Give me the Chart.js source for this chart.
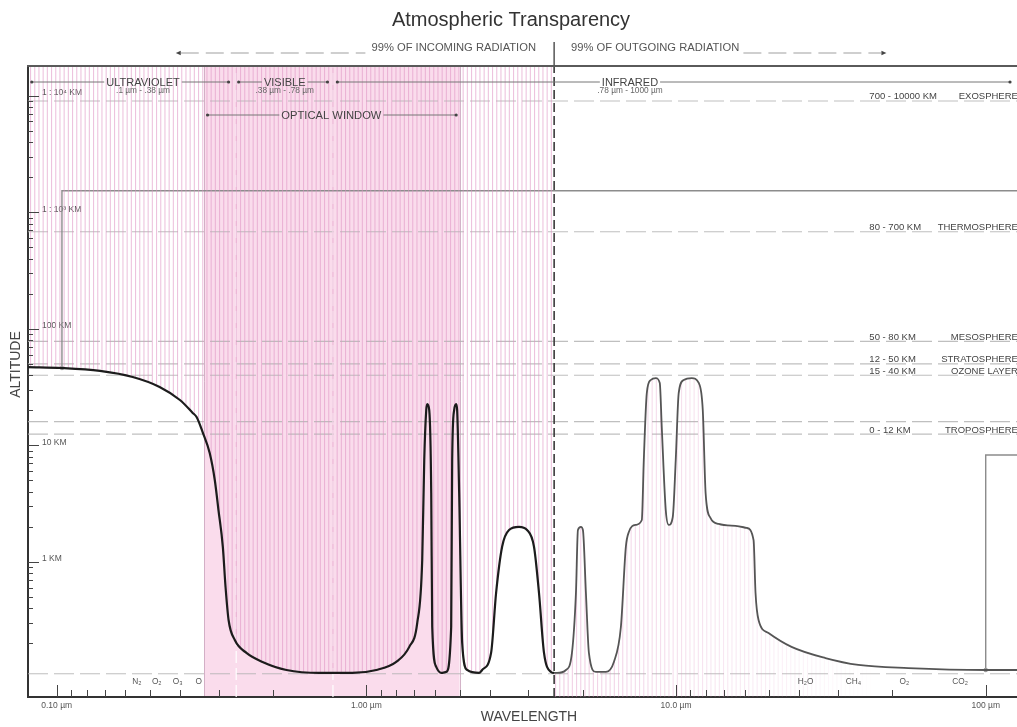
<!DOCTYPE html>
<html>
<head>
<meta charset="utf-8">
<title>Atmospheric Transparency</title>
<script src="https://cdn.jsdelivr.net/npm/chart.js@4.4.1/dist/chart.umd.min.js"></script>
<style>
  html, body { margin:0; padding:0; background:#fff; overflow:hidden; }
  #wrap { position:absolute; left:-12px; top:0; width:1046px; height:727px; }
</style>
</head>
<body>
<div id="wrap"><canvas id="chart" width="1046" height="727"></canvas></div>
<script>
// Transparencia atmosférica: altitud que alcanza la radiación según la longitud de onda
// - eje x logarítmico en µm, eje y logarítmico en km

/* ---------- ejes ---------- */
const X_MIN = 0.0808, X_MAX = 139;      // µm
const Y_MIN = 0.0695, Y_MAX = 17950;    // km
const xMajorTicks = [0.1, 1, 10, 100];
const xTickLabels = ['0.10 µm', '1.00 µm', '10.0 µm', '100 µm'];
const yMajorTicks = [1, 10, 100, 1000, 10000];
const yTickLabels = ['1 KM', '10 KM', '100 KM', '1 : 10³ KM', '1 : 10⁴ KM'];

/* ---------- curva: radiación entrante (hasta ~4 µm) ---------- */
const inWavelength = [0.0808, 0.104, 0.138, 0.176, 0.215, 0.250, 0.275, 0.283, 0.296, 0.312,
  0.324, 0.333, 0.344, 0.351, 0.359, 0.376, 0.410, 0.462, 0.552, 0.706,
  0.901, 1.077, 1.249, 1.376, 1.460, 1.515, 1.538, 1.561, 1.573, 1.596,
  1.620, 1.632, 1.681, 1.745, 1.811, 1.879, 1.893, 1.921, 1.950, 1.964,
  1.994, 2.039, 2.116, 2.313, 2.365, 2.528, 2.624, 2.744, 2.889, 3.112,
  3.303, 3.478, 3.610, 3.747, 3.947, 4.036];
const inAltitude = [47.0, 46.1, 43.5, 38.6, 31.7, 24.5, 19.0, 17.5, 13.0, 8.61,
  5.05, 2.79, 1.35, 0.61, 0.318, 0.214, 0.166, 0.139, 0.1185, 0.1117,
  0.1117, 0.1185, 0.139, 0.187, 0.300, 1.04, 7.5, 20.1, 22.6, 20.1,
  3.91, 0.277, 0.126, 0.1117, 0.114, 0.277, 7.5, 20.1, 22.6, 20.1,
  3.91, 0.202, 0.1185, 0.1117, 0.1185, 0.166, 0.542, 1.35, 1.88, 2.0,
  1.88, 1.35, 0.542, 0.166, 0.114, 0.1117];

/* ---------- curva: radiación saliente (desde ~4 µm) ---------- */
const outWavelength = [4.036, 4.127, 4.411, 4.612, 4.751, 4.822, 4.930, 5.004, 5.117, 5.232,
  5.511, 5.935, 6.300, 6.636, 6.886, 7.041, 7.416, 7.753, 7.869, 8.046,
  8.289, 8.603, 8.862, 8.993, 9.264, 9.473, 9.759, 9.978, 10.20, 10.59,
  11.24, 11.84, 12.20, 12.46, 12.93, 13.73, 15.57, 16.90, 17.80, 18.06,
  18.47, 19.89, 23.60, 30.37, 38.80, 56.23, 100.3, 139];
const outAltitude = [0.1117, 0.1117, 0.1185, 0.166, 0.542, 1.88, 2.0, 1.88, 0.542, 0.166,
  0.114, 0.114, 0.139, 0.277, 1.35, 1.81, 2.08, 2.29, 7.5, 28.1,
  36.4, 37.8, 34.3, 14.4, 2.79, 2.08, 2.43, 7.5, 28.1, 36.4,
  37.8, 34.3, 20.1, 3.91, 2.38, 2.12, 2.04, 1.96, 1.54, 0.542,
  0.318, 0.246, 0.187, 0.150, 0.131, 0.123, 0.1185, 0.1185];

/* ---------- capas de la atmósfera ---------- */
const layerAltitudes = [9000, 680, 78, 50, 40, 16, 12.5, 0.11];
const layerRanges = ['700 - 10000 KM', '80 - 700 KM', '50 - 80 KM', '12 - 50 KM', '15 - 40 KM', '', '0 - 12 KM', ''];
const layerNames = ['EXOSPHERE', 'THERMOSPHERE', 'MESOSPHERE', 'STRATOSPHERE', 'OZONE LAYER', '', 'TROPOSPHERE', ''];
const layerTextFrom = 42.1, layerTextTo = 127;   // µm

/* ---------- líneas de referencia ---------- */
const linkAWavelength = [0.104, 0.104, 139];
const linkAAltitude = [46.1, 1530, 1530];
const linkBWavelength = [100, 100, 139];
const linkBAltitude = [0.1185, 8.27, 8.27];
const bandEdges = [0.38, 0.78];
const DIVIDER = 4.04;                  // incoming | outgoing
const opticalWindow = [0.3, 2.0];
const opticalArrow = [0.307, 1.95];
const OPTICAL_CENTER = 0.771;

/* ---------- bandas del espectro ---------- */
const bandLabels = ['ULTRAVIOLET', 'VISIBLE', 'INFRARED'];
const bandSubLabels = ['.1 µm - .38 µm', '.38 µm - .78 µm', '.78 µm - 1000 µm'];
const bandFrom = [0.0831, 0.387, 0.806];
const bandTo = [0.359, 0.749, 119.8];
const bandCenter = [0.19, 0.545, 7.1];

/* ---------- gases absorbentes ---------- */
const gasLabels = ['N₂', 'O₂', 'O₃', 'O', 'H₂O', 'CH₄', 'O₂', 'CO₂'];
const gasWavelength = [0.1815, 0.2104, 0.246, 0.2874, 26.2, 37.4, 54.6, 82.7];
const GAS_ALT = 0.0935;

/* ---------- radiación 99% ---------- */
const incomingDash = [0.2424, 0.993];
const INCOMING_END = 3.53;
const OUTGOING_START = 4.58;
const outgoingDash = [16.5, 47.8];

const FONT = "'Liberation Sans', Arial, sans-serif";
Chart.defaults.font.family = FONT;

function pts(xs, ys) { return xs.map((x, i) => ({x, y: ys[i]})); }

// rayado vertical rosa; en la parte saliente se desvanece hacia la derecha
const patternCache = {};
function stripes(chart, fade) {
  const area = chart.chartArea;
  if (!area) return 'transparent';
  const key = chart.width + 'x' + chart.height + (fade ? 'f' : 'n') + area.bottom;
  if (patternCache[key]) return patternCache[key];
  const c = document.createElement('canvas');
  c.width = chart.width; c.height = chart.height;
  const g = c.getContext('2d');
  const xs = chart.scales.x;
  const x0 = xs.getPixelForValue(DIVIDER), x1 = xs.getPixelForValue(45);
  for (let x = area.left + 2; x < area.right; x += 4.2) {
    let a = 0.55;
    if (fade) a = x < x0 ? 0.45 : Math.max(0, 0.45 * (1 - (x - x0) / (x1 - x0)));
    if (a <= 0) continue;
    g.fillStyle = `rgba(222,145,194,${a})`;
    g.fillRect(x, area.top, 1.1, area.bottom - area.top);
  }
  patternCache[key] = chart.ctx.createPattern(c, 'no-repeat');
  return patternCache[key];
}

function buildXTicks(scale) {
  const t = [];
  [0.1, 1, 10].forEach(d => { for (let k = 9; k >= 2; k--) t.push({value: d * 10 / k, major: false}); });
  xMajorTicks.forEach(v => t.push({value: v, major: true}));
  t.sort((a, b) => a.value - b.value);
  scale.ticks = t;
}
function buildYTicks(scale) {
  const t = [];
  [0.1, 1, 10, 100, 1000].forEach(d => { for (let k = 2; k <= 9; k++) t.push({value: d * k, major: false}); });
  yMajorTicks.forEach(v => t.push({value: v, major: true}));
  t.sort((a, b) => a.value - b.value);
  scale.ticks = t;
}
function labelFor(majors, labels, v) {
  const i = majors.findIndex(m => Math.abs(m - v) / m < 1e-6);
  return i >= 0 ? labels[i] : '';
}

const datasets = [
  { data: pts(inWavelength, inAltitude), borderColor: '#1c1c1c', borderWidth: 2.2,
    backgroundColor: c => stripes(c.chart, false), fill: 'end', cubicInterpolationMode: 'monotone', pointRadius: 0 },
  { data: pts(outWavelength, outAltitude), borderColor: '#555', borderWidth: 1.8,
    backgroundColor: c => stripes(c.chart, true), fill: 'start', cubicInterpolationMode: 'monotone', pointRadius: 0 },
  { data: pts(linkAWavelength, linkAAltitude), borderColor: '#8c8c8c', borderWidth: 1.4, fill: false,
    pointRadius: c => c.dataIndex === 0 ? 2.2 : 0, pointBackgroundColor: '#999', pointBorderWidth: 0 },
  { data: pts(linkBWavelength, linkBAltitude), borderColor: '#8c8c8c', borderWidth: 1.4, fill: false,
    pointRadius: c => c.dataIndex === 0 ? 2.2 : 0, pointBackgroundColor: '#999', pointBorderWidth: 0 },
  { data: [{x: DIVIDER, y: Y_MIN}, {x: DIVIDER, y: Y_MAX}], borderColor: '#3a3a3a', borderWidth: 1.6,
    borderDash: [9, 4], fill: false, pointRadius: 0 }
];
bandEdges.forEach(v => datasets.push({ data: [{x: v, y: Y_MIN}, {x: v, y: Y_MAX}],
  borderColor: 'rgba(255,255,255,0.85)', borderWidth: 1.4, borderDash: [12, 5], fill: false, pointRadius: 0 }));
layerAltitudes.forEach(a => datasets.push({ data: [{x: X_MIN, y: a}, {x: X_MAX, y: a}],
  borderColor: 'rgba(180,180,180,0.85)', borderWidth: 1.1, borderDash: [20, 6], fill: false, pointRadius: 0 }));

// fondo rosa de la ventana óptica
const bandPlugin = {
  id: 'opticalBand',
  beforeDraw(chart) {
    const {ctx, chartArea: a, scales: {x}} = chart;
    const x1 = x.getPixelForValue(opticalWindow[0]), x2 = x.getPixelForValue(opticalWindow[1]);
    ctx.save();
    ctx.fillStyle = '#fadcec';
    ctx.fillRect(x1, a.top, x2 - x1, a.bottom - a.top);
    ctx.strokeStyle = 'rgba(200,160,186,0.8)'; ctx.lineWidth = 1;
    ctx.beginPath();
    ctx.moveTo(Math.round(x1) + 0.5, a.top); ctx.lineTo(Math.round(x1) + 0.5, a.bottom);
    ctx.moveTo(Math.round(x2) + 0.5, a.top); ctx.lineTo(Math.round(x2) + 0.5, a.bottom);
    ctx.stroke();
    ctx.restore();
  }
};

function dot(ctx, x, y) { ctx.beginPath(); ctx.arc(x, y, 1.6, 0, Math.PI * 2); ctx.fill(); }
function arrowHead(ctx, x, y, dir) {
  ctx.beginPath(); ctx.moveTo(x, y); ctx.lineTo(x - dir * 5, y - 2.2); ctx.lineTo(x - dir * 5, y + 2.2); ctx.closePath(); ctx.fill();
}
function labelLine(ctx, x1, x2, y, cx, text) {
  const w = ctx.measureText(text).width;
  ctx.beginPath();
  ctx.moveTo(x1, y); ctx.lineTo(cx - w / 2 - 2, y);
  ctx.moveTo(cx + w / 2 + 2, y); ctx.lineTo(x2, y);
  ctx.stroke();
  dot(ctx, x1, y); dot(ctx, x2, y);
  ctx.fillText(text, cx, y + 0.5);
}

// textos, marcas de los ejes y anotaciones
const annotationPlugin = {
  id: 'annotations',
  afterDraw(chart) {
    const {ctx, chartArea: a, scales: {x, y}} = chart;
    const px = v => x.getPixelForValue(v), py = v => y.getPixelForValue(v);
    ctx.save();

    // borde superior
    ctx.strokeStyle = '#5a5a5a'; ctx.lineWidth = 2;
    ctx.beginPath(); ctx.moveTo(a.left - 1, a.top); ctx.lineTo(a.right, a.top); ctx.stroke();

    // marcas de los ejes (hacia dentro)
    ctx.strokeStyle = '#444'; ctx.lineWidth = 1;
    ctx.beginPath();
    x.ticks.forEach(t => {
      const xx = Math.round(px(t.value)) + 0.5;
      ctx.moveTo(xx, a.bottom); ctx.lineTo(xx, a.bottom - (t.major ? 12 : 7));
    });
    y.ticks.forEach(t => {
      const yy = Math.round(py(t.value)) + 0.5;
      ctx.moveTo(a.left, yy); ctx.lineTo(a.left + (t.major ? 11 : 5), yy);
    });
    ctx.stroke();

    // divisor entrante / saliente por encima del gráfico
    const xd = px(DIVIDER);
    ctx.strokeStyle = '#555'; ctx.lineWidth = 1.5;
    ctx.beginPath(); ctx.moveTo(xd, a.top - 24); ctx.lineTo(xd, a.top); ctx.stroke();

    // 99% de radiación
    ctx.fillStyle = '#555'; ctx.font = `11.2px ${FONT}`; ctx.textBaseline = 'alphabetic';
    ctx.textAlign = 'right'; ctx.fillText('99% OF INCOMING RADIATION', px(INCOMING_END), a.top - 15);
    ctx.textAlign = 'left'; ctx.fillText('99% OF OUTGOING RADIATION', px(OUTGOING_START), a.top - 15);
    ctx.strokeStyle = '#a0a0a0'; ctx.lineWidth = 1.1; ctx.setLineDash([18, 7]);
    ctx.beginPath();
    ctx.moveTo(px(incomingDash[0]) + 5, a.top - 13); ctx.lineTo(px(incomingDash[1]), a.top - 13);
    ctx.moveTo(px(outgoingDash[0]), a.top - 13); ctx.lineTo(px(outgoingDash[1]) - 5, a.top - 13);
    ctx.stroke();
    ctx.setLineDash([]);
    ctx.fillStyle = '#444';
    arrowHead(ctx, px(incomingDash[0]), a.top - 13, -1);
    arrowHead(ctx, px(outgoingDash[1]), a.top - 13, 1);

    // bandas del espectro
    ctx.strokeStyle = '#777'; ctx.lineWidth = 1; ctx.textAlign = 'center'; ctx.textBaseline = 'middle';
    bandLabels.forEach((lab, i) => {
      ctx.font = `11px ${FONT}`; ctx.fillStyle = '#444';
      labelLine(ctx, px(bandFrom[i]), px(bandTo[i]), a.top + 16, px(bandCenter[i]), lab);
      ctx.font = `8.3px ${FONT}`; ctx.fillStyle = '#666';
      ctx.fillText(bandSubLabels[i], px(bandCenter[i]), a.top + 25);
    });
    ctx.font = `11.2px ${FONT}`; ctx.fillStyle = '#444';
    labelLine(ctx, px(opticalArrow[0]), px(opticalArrow[1]), a.top + 49, px(OPTICAL_CENTER), 'OPTICAL WINDOW');

    // capas
    ctx.font = `9.5px ${FONT}`; ctx.fillStyle = '#444'; ctx.textBaseline = 'alphabetic';
    layerAltitudes.forEach((alt, i) => {
      if (!layerRanges[i]) return;
      const yy = py(alt) - 1.5;
      ctx.textAlign = 'left'; ctx.fillText(layerRanges[i], px(layerTextFrom), yy);
      ctx.textAlign = 'right'; ctx.fillText(layerNames[i], px(layerTextTo), yy);
    });

    // gases
    ctx.font = `8.3px ${FONT}`; ctx.fillStyle = '#555'; ctx.textAlign = 'center'; ctx.textBaseline = 'middle';
    gasLabels.forEach((g, i) => ctx.fillText(g, px(gasWavelength[i]), py(GAS_ALT)));

    // título del eje y
    ctx.translate(a.left - 12, (a.top + a.bottom) / 2 - 17);
    ctx.rotate(-Math.PI / 2);
    ctx.font = `14px ${FONT}`; ctx.fillStyle = '#444';
    ctx.fillText('ALTITUDE', 0, 0);
    ctx.restore();
  }
};

new Chart(document.getElementById('chart'), {
  type: 'line',
  data: { datasets },
  options: {
    responsive: false,
    animation: false,
    events: [],
    layout: { padding: { left: 2, right: 2, top: 8, bottom: 1 } },
    plugins: {
      legend: { display: false },
      tooltip: { enabled: false },
      title: { display: true, text: 'Atmospheric Transparency', color: '#333',
        font: { size: 20, weight: 'normal' }, padding: { top: 0, bottom: 34 } }
    },
    scales: {
      x: {
        type: 'logarithmic', min: X_MIN, max: X_MAX,
        afterBuildTicks: buildXTicks,
        afterFit: s => { s.height = 29; },
        grid: { display: false, drawTicks: false },
        border: { display: true, color: '#333', width: 2 },
        ticks: { autoSkip: false, maxRotation: 0, padding: 4, color: '#555', font: { size: 8.5 },
          callback: v => labelFor(xMajorTicks, xTickLabels, v) },
        title: { display: true, text: 'WAVELENGTH', color: '#444', font: { size: 14 }, padding: { top: 0, bottom: 0 } }
      },
      y: {
        type: 'logarithmic', min: Y_MIN, max: Y_MAX,
        afterBuildTicks: buildYTicks,
        afterFit: s => { s.width = 38; },
        grid: { display: false, drawTicks: false },
        border: { display: true, color: '#333', width: 2 },
        ticks: { mirror: true, padding: 14, labelOffset: -3, autoSkip: false, color: '#555', font: { size: 8.5 },
          callback: v => labelFor(yMajorTicks, yTickLabels, v) }
      }
    }
  },
  plugins: [bandPlugin, annotationPlugin]
});
</script>
</body>
</html>
